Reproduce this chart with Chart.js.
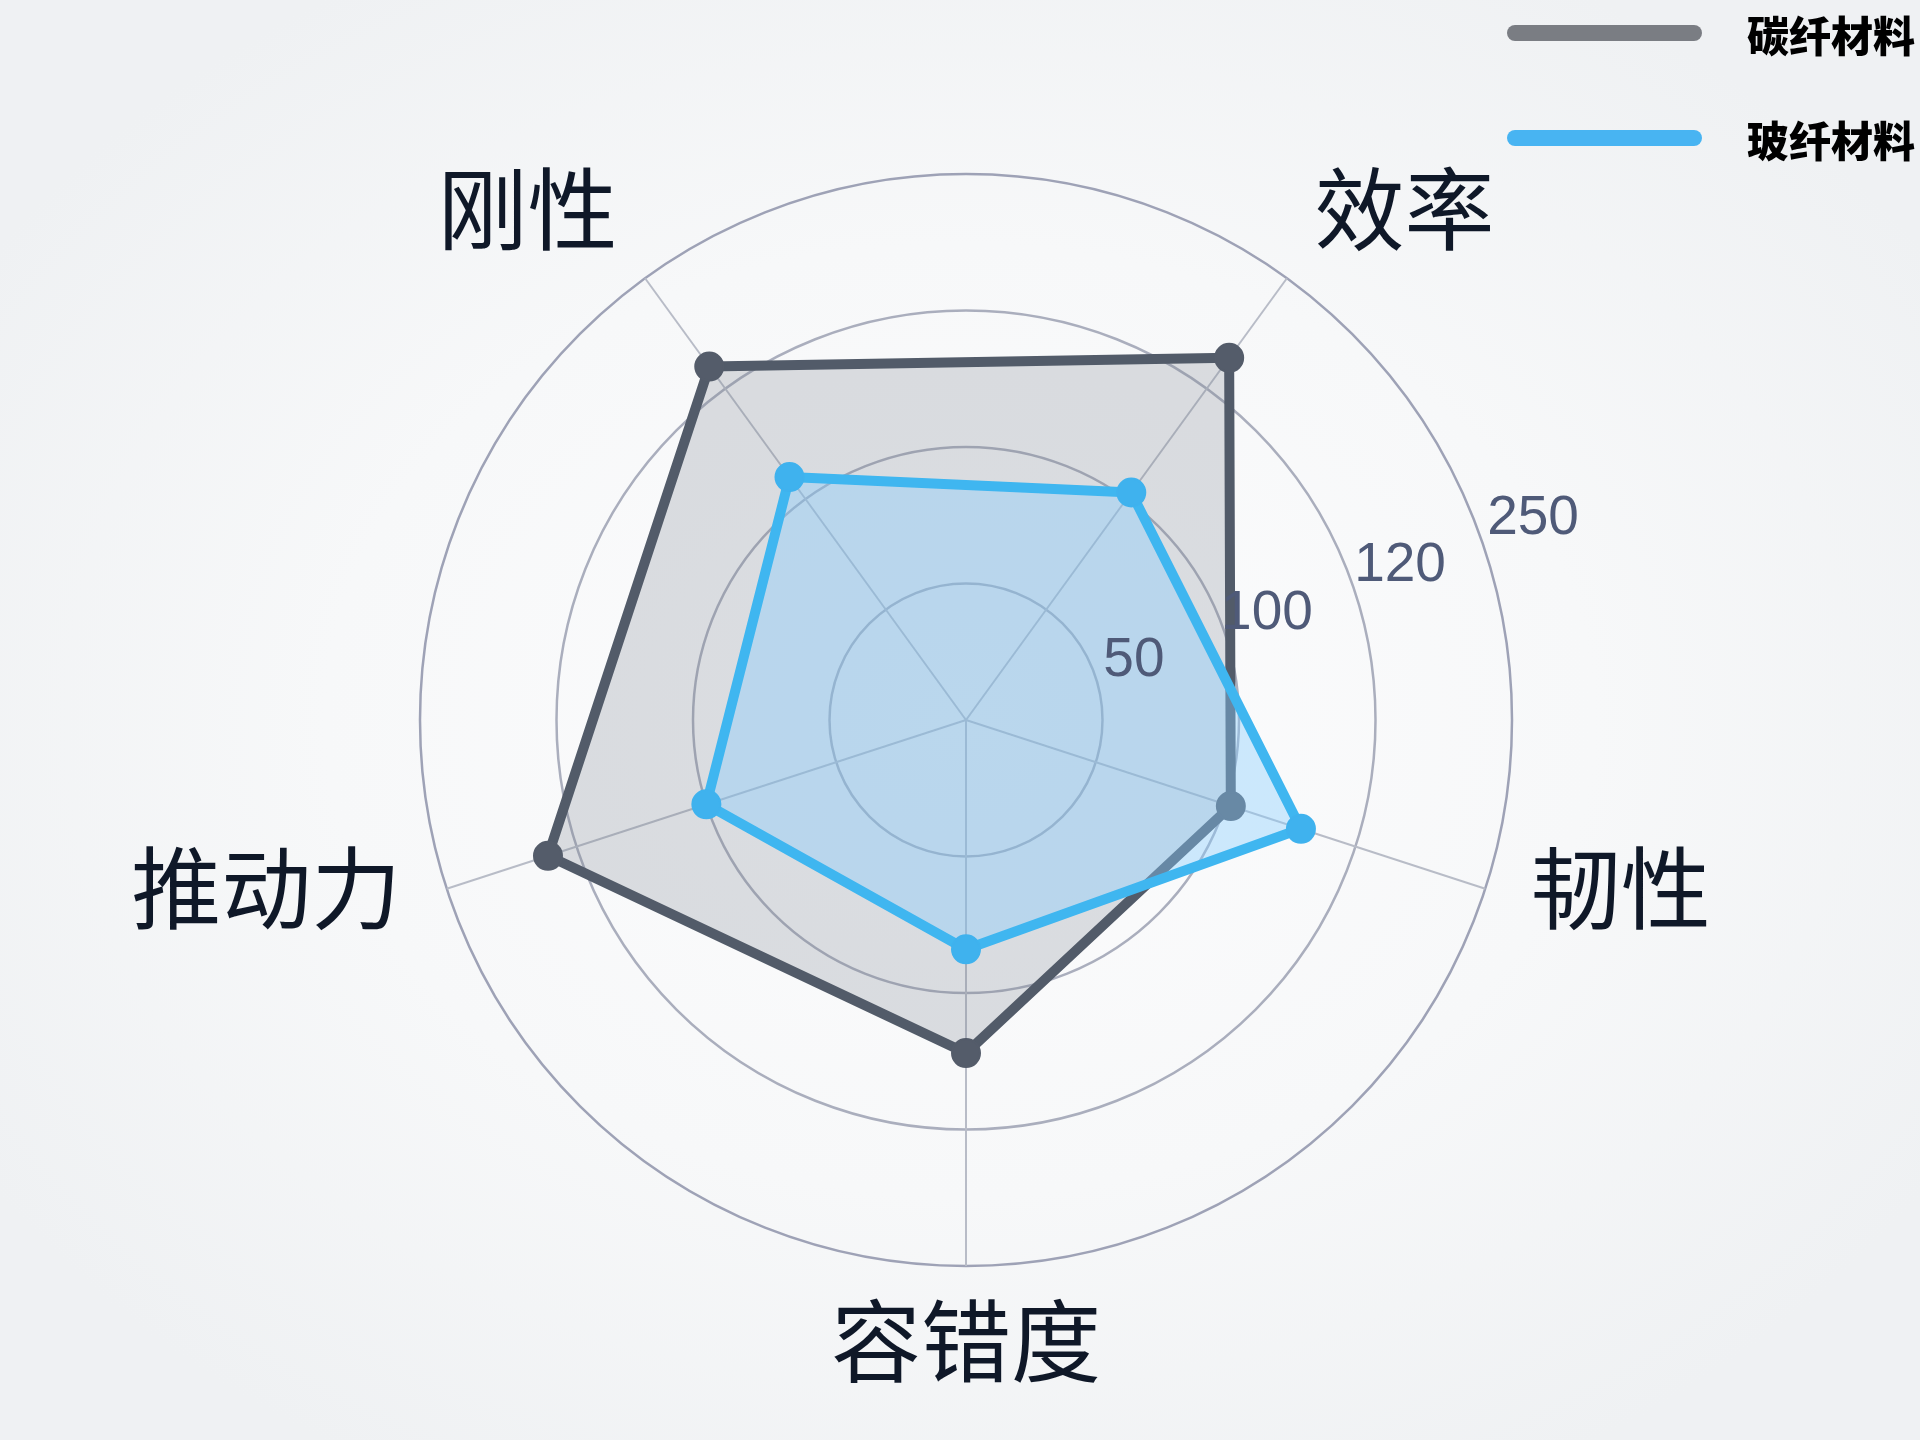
<!DOCTYPE html>
<html lang="zh">
<head>
<meta charset="utf-8">
<title>碳纤材料 vs 玻纤材料</title>
<script src="https://cdn.jsdelivr.net/npm/chart.js@4/dist/chart.umd.min.js"></script>
<style>
  html, body {
    margin: 0;
    padding: 0;
  }
  body {
    width: 1920px;
    height: 1440px;
    overflow: hidden;
    background: radial-gradient(ellipse 60% 60% at 50% 50%, #fcfcfd 0%, #f7f8f9 55%, #eff1f3 100%);
    position: relative;
  }
  #radar {
    position: absolute;
    left: 0;
    top: 0;
  }
  .legend {
    position: absolute;
    left: 1507px;
    font-family: "Noto Sans CJK SC", sans-serif;
    font-weight: 900;
    font-size: 42px;
    color: #000;
  }
  .legend-item {
    position: absolute;
    left: 0;
    width: 420px;
    height: 60px;
    display: flex;
    align-items: center;
  }
  .legend-line {
    width: 195px;
    height: 16px;
    border-radius: 8px;
    margin-right: 45px;
  }
</style>
</head>
<body>

<canvas id="radar" width="1920" height="1440"></canvas>

<div class="legend">
  <div class="legend-item" style="top: 3px;">
    <span class="legend-line" style="background: #7a7d83;"></span>
    <span>碳纤材料</span>
  </div>
  <div class="legend-item" style="top: 108px;">
    <span class="legend-line" style="background: #48b4f2;"></span>
    <span>玻纤材料</span>
  </div>
</div>

<script>
'use strict';

/**
 * data
 */

const labels = ["容错度", "推动力", "刚性", "效率", "韧性"];

const carbonFiber = [122, 161, 160, 164, 102];   // 碳纤材料
const glassFiber = [84, 100, 110, 103, 129];     // 玻纤材料

// ring values on the scale and the text printed next to each ring
const tickValues = [50, 100, 150, 200];
const tickLabels = ["50", "100", "120", "250"];


/**
 * custom text: axis labels and ring labels
 */

const radarText = {
  id: "radarText",
  afterDraw(chart) {
    const scale = chart.scales.r;
    const ctx = chart.ctx;
    const R = scale.drawingArea;

    ctx.save();

    // axis names
    ctx.font = '400 90px "Noto Sans CJK SC", sans-serif';
    ctx.fillStyle = "#0f1828";
    ctx.textAlign = "center";
    ctx.textBaseline = "middle";
    labels.forEach(function (text, i) {
      const pos = scale.getPointPosition(i, R + 30);
      const cos = Math.cos(pos.angle);
      const sin = Math.sin(pos.angle);
      const halfW = ctx.measureText(text).width / 2;
      const halfH = 45;
      let x = pos.x;
      let y = pos.y;
      if (cos > 0.2) x += halfW;
      if (cos < -0.2) x -= halfW;
      if (Math.abs(sin) < 0.5) {
        // side labels
        x += cos > 0 ? 17 : -17;
        y -= 10;
      }
      if (sin > 0.9) y += halfH;
      if (sin < -0.5) {
        // top labels
        y -= halfH;
        x += cos > 0 ? 10 : -10;
      }
      ctx.fillText(text, x, y);
    });

    // ring labels, along a line toward upper right
    const a = -19.5 * Math.PI / 180;
    ctx.font = '400 55px "Liberation Sans", Arial, sans-serif';
    ctx.fillStyle = "#4f5a78";
    tickValues.forEach(function (v, i) {
      const ring = scale.getDistanceFromCenterForValue(v);
      const d = ring * 1.034 + 37;
      ctx.fillText(tickLabels[i], scale.xCenter + d * Math.cos(a), scale.yCenter + d * Math.sin(a));
    });

    ctx.restore();
  }
};


new Chart("radar", {
  type: "radar",
  data: {
    labels: labels,
    datasets: [{
      label: "碳纤材料",
      data: carbonFiber,
      borderColor: "#525b69",
      backgroundColor: "rgba(125, 130, 145, 0.25)",
      borderWidth: 10,
      pointRadius: 14,
      pointBorderWidth: 2,
      pointBackgroundColor: "#545c6a",
      pointBorderColor: "#545c6a",
      fill: true,
      order: 2
    }, {
      label: "玻纤材料",
      data: glassFiber,
      borderColor: "#3fb6f0",
      backgroundColor: "rgba(135, 205, 255, 0.4)",
      borderWidth: 10,
      pointRadius: 14,
      pointBorderWidth: 2,
      pointBackgroundColor: "#3fb2ee",
      pointBorderColor: "#3fb2ee",
      fill: true,
      order: 1
    }]
  },
  options: {
    responsive: false,
    devicePixelRatio: 1,
    animation: false,
    layout: {
      padding: { left: 420, right: 408, top: 174, bottom: 174 }
    },
    plugins: {
      legend: { display: false },
      tooltip: { enabled: false }
    },
    elements: {
      line: { tension: 0, borderJoinStyle: "round" }
    },
    scales: {
      r: {
        min: 0,
        max: 200,
        startAngle: 180,
        ticks: {
          display: false,
          stepSize: 50
        },
        pointLabels: { display: false },
        grid: {
          circular: true,
          color: function (context) {
            return context.index === 4 ? "#9ea2b6" : "#aaaebd";
          },
          lineWidth: 2.5
        },
        angleLines: {
          color: "#b8bcc7",
          lineWidth: 2
        }
      }
    }
  },
  plugins: [radarText]
});
</script>
</body>
</html>
